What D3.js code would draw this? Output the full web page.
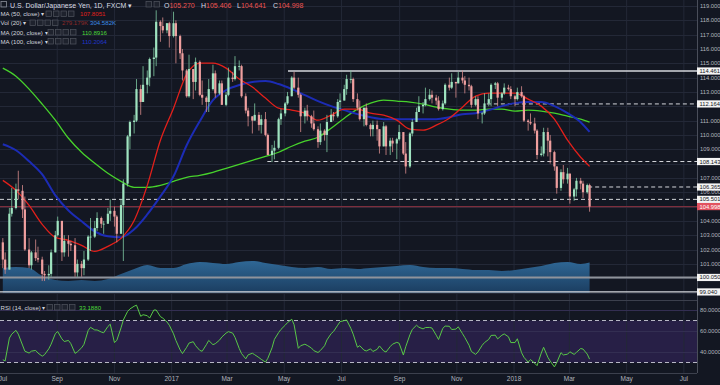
<!DOCTYPE html>
<html><head><meta charset="utf-8">
<script src="https://cdn.jsdelivr.net/npm/d3@7"></script>
<style>html,body{margin:0;padding:0;background:#131722;overflow:hidden}svg{display:block;font-family:"Liberation Sans",Arial,sans-serif}</style>
</head><body><svg id="c" width="720" height="385"></svg>
<script>
// ---------- DATA (half-week candles, USD/JPY) ----------
const firstOpen = 102.5;
const closes = [
101.3,100.6, 104.5,104.9, 106.2,106.1, 104.8,102.0, 100.9,101.8, 101.4,101.3, 100.3,100.2, 100.3,101.8,
103.0,104.0, 101.8,102.6, 102.4,102.3, 100.4,101.0, 100.7,101.3, 102.9,102.9, 103.5,104.2, 103.8,103.8,
104.5,104.7, 104.3,103.1, 105.1,106.6, 109.9,110.9, 111.0,113.2, 112.3,113.5, 114.0,115.3, 115.4,117.9,
117.6,117.3, 117.8,116.9, 117.8,116.9, 115.7,114.5, 112.7,114.6, 113.7,115.1, 112.8,112.6, 112.3,113.2,
114.3,112.9, 113.6,112.1, 112.8,114.0, 113.9,114.8, 114.8,112.7, 111.7,111.3, 111.0,111.4, 110.7,111.1,
110.0,108.6, 108.9,109.1, 111.1,111.5, 112.2,112.7, 114.0,113.3, 112.8,111.3, 111.7,111.3, 110.8,110.4,
109.5,110.3, 110.0,110.9, 111.4,111.3, 112.3,112.4, 113.2,113.9, 113.9,112.5, 111.9,111.1, 111.9,110.7,
110.4,110.7, 110.4,109.2, 110.6,109.2, 109.6,109.4, 109.7,110.2, 108.7,107.8, 110.1,110.9, 111.6,112.0,
112.1,112.5, 112.8,112.6, 112.4,111.8, 112.2,113.5, 113.3,113.7, 113.6,114.0, 113.8,113.5, 113.4,112.1,
112.5,111.5, 111.5,112.2, 112.5,113.5, 113.6,112.6, 112.9,113.3, 113.2,112.7, 112.5,113.0, 112.7,111.0,
110.9,110.8, 110.3,108.6, 108.7,110.2, 109.6,108.8, 107.8,106.3, 107.4,106.9, 107.3,105.7, 106.2,106.8,
106.6,106.0, 106.5,104.998];
const highs = [
102.8,101.8, 104.9,106.3, 106.6,107.5, 106.5,105.7, 102.8,101.9, 102.7,102.2, 101.5,100.5, 100.9,102.0,
103.3,104.3, 104.0,103.0, 103.0,102.6, 102.8,101.3, 101.2,101.9, 103.0,104.2, 104.0,104.6, 104.3,104.0,
104.9,105.5, 105.0,104.4, 105.5,106.9, 110.0,111.0, 111.4,113.9, 113.5,114.8, 114.5,115.4, 116.1,118.7,
118.0,118.2, 117.8,117.9, 118.6,118.0, 117.0,116.0, 114.6,115.6, 114.6,115.4, 115.2,113.8, 112.7,113.9,
114.9,114.5, 113.8,113.8, 113.0,114.7, 114.4,115.5, 115.2,114.9, 112.9,111.9, 111.3,112.2, 111.6,111.4,
111.6,110.1, 109.3,109.6, 111.2,111.8, 112.3,113.0, 114.1,114.4, 114.0,112.9, 111.9,112.1, 111.4,111.7,
110.6,110.8, 110.4,111.4, 111.8,111.6, 112.5,112.9, 113.5,114.2, 114.5,114.0, 112.9,112.4, 111.9,112.2,
110.8,111.0, 111.0,110.4, 110.9,110.7, 109.8,109.8, 109.8,110.7, 110.1,109.5, 110.2,111.1, 111.9,112.7,
112.3,113.3, 113.2,113.1, 112.8,112.7, 112.4,113.6, 114.0,114.3, 113.7,114.4, 114.5,114.1, 114.0,113.5,
112.7,112.7, 111.6,112.9, 112.9,113.6, 113.7,113.7, 113.0,113.6, 113.5,113.4, 112.8,113.3, 113.4,112.8,
111.1,111.5, 111.2,110.4, 109.2,110.5, 110.5,110.0, 108.9,107.8, 107.6,107.9, 107.7,107.3, 106.3,107.0,
107.0,106.8, 106.6,106.6];
const lows = [
100.7,100.3, 100.6,104.3, 104.8,105.5, 104.2,101.9, 100.7,100.6, 101.2,101.1, 99.8,99.8, 99.9,100.1,
101.8,102.9, 101.2,101.5, 101.5,101.9, 100.1,100.1, 100.1,100.2, 101.2,101.9, 102.8,103.3, 103.5,103.1,
103.8,104.0, 103.6,102.5, 103.2,101.2, 106.4,109.0, 110.1,110.9, 111.4,112.9, 112.9,113.4, 114.1,114.8,
116.5,117.1, 117.1,116.1, 116.8,115.0, 115.3,113.8, 112.6,112.6, 112.5,113.1, 112.7,112.1, 111.6,111.6,
113.1,112.6, 112.8,112.1, 112.0,112.7, 113.7,113.8, 114.5,112.6, 111.5,110.6, 110.1,111.0, 110.3,110.1,
109.9,108.6, 108.1,108.3, 109.0,110.7, 111.3,112.1, 112.7,113.2, 112.6,110.2, 110.8,111.0, 110.5,110.3,
109.1,109.3, 109.6,108.8, 110.9,111.0, 111.2,111.8, 112.4,112.8, 113.6,112.3, 111.7,111.0, 110.6,110.6,
109.9,109.9, 109.6,108.7, 109.2,108.6, 108.6,108.8, 108.3,109.6, 108.6,107.3, 107.7,109.9, 110.9,111.6,
111.5,112.0, 112.4,112.2, 112.1,111.7, 111.7,112.1, 113.1,113.2, 112.6,113.6, 113.6,112.9, 113.1,111.9,
112.0,111.1, 110.8,111.4, 112.0,112.0, 113.2,112.0, 112.4,112.8, 113.1,112.5, 112.0,112.4, 112.6,110.9,
110.3,110.7, 110.1,108.3, 108.5,108.5, 108.5,108.0, 107.5,105.9, 106.1,106.6, 106.6,105.2, 105.4,105.7,
106.2,105.6, 105.9,104.641];
// moving averages, sampled every 4th candle (+ last candle)
const ma50 = [106.83,106.13,105.08,103.76,102.85,102.64,102.29,101.87,102.22,102.78,104.03,106.48,109.63,111.87,114.24,115.01,115.01,114.66,113.90,113.34,112.57,111.87,111.73,111.52,111.03,111.38,111.80,111.80,111.52,111.38,111.03,110.40,110.33,110.68,111.17,111.94,112.71,112.92,112.92,112.92,112.50,112.01,111.10,109.63,108.44,107.8051];
const ma100 = [109.35,108.93,108.16,107.25,105.78,104.73,103.97,103.27,102.92,102.85,103.41,104.45,105.71,107.11,109.28,110.96,112.43,113.13,113.48,113.69,113.76,113.55,113.20,112.78,112.36,112.01,111.73,111.45,111.24,111.10,111.10,111.10,111.10,111.10,111.24,111.45,111.52,111.73,112.01,112.22,112.29,112.29,112.01,111.52,110.89,110.2064];
const ma200 = [114.66,114.10,113.20,112.15,111.03,109.77,108.79,108.02,107.32,106.76,106.34,106.34,106.48,106.76,107.04,107.18,107.39,107.67,107.95,108.23,108.51,108.79,109.21,109.56,109.84,110.47,111.17,111.80,112.22,112.43,112.36,112.29,112.15,111.94,111.80,111.73,111.73,111.80,111.80,111.66,111.73,111.66,111.52,111.31,111.10,110.8916];
const volMA = [250,260,250,170,130,120,130,120,140,190,240,280,250,250,290,310,300,290,310,320,300,280,260,250,260,240,250,240,250,260,270,280,260,250,250,240,230,230,220,230,250,270,300,310,290,304.582];
const lastVolume = "279.179K";
const rsi = [
32.6,31.5, 53.2,57, 60.6,57, 46.6,40.8, 39,40.8, 41.5,39, 36,37.5, 43,47.5, 57.5,59.5, 52.5,50,
51,48, 38.7,40.2, 44,47.3, 60.5,63.5, 61,61, 59,58.3, 64.3,66.5, 49,51, 63,70.5, 78.6,81,
83.6,84.6, 74,75.5, 74.6,72.3, 80,80, 73.7,72.3, 68.6,65.5, 57.3,51, 42,38.5, 44.5,48.5, 49.8,46,
41.5,40.7, 47,51, 47,47.9, 51.3,54.3, 58,59.4, 58,54, 43.4,38.5, 33.5,37.3, 38.8,37.4, 34.7,33,
30.4,34, 44,52, 58.5,61.5, 65.5,68, 71.2,66, 43.5,46, 47.4,46.3, 43.8,41.3, 39.5,41.4, 46,51.5,
57.5,59.5, 65.5,68.9, 69.9,70.5, 62.5,57, 44.5,46, 41.8,41, 43,40.5, 42.5,45.8, 41,40, 45.2,47.5,
49.2,48.3, 37.1,45, 56.5,61.5, 65.5,63.6, 62,63.3, 63.4,62.8, 56,51.9, 62.5,64.7, 64.5,61.4, 61.8,64,
57.5,53.8, 46.5,40.5, 37.7,40, 46.4,49, 52,55.8, 56,52.5, 56,57.2, 54.5,49, 49,52.6, 39.3,35,
30.3,32.8, 29.3,27, 39,44.5, 35,31.3, 25.8,30, 39.4,37.2, 37.9,40.2, 37.7,39.7, 43.3,42.8, 38,33.188];
const solidLevels = [{v:114.461, from:"2017-05-05"},{v:100.050, from:null},{v:99.040, from:null}];
const dashedLevels = [{v:112.164, from:"2017-12-03"},{v:108.143, from:"2017-04-13"},{v:106.365, from:"2018-03-21"},{v:105.501, from:null}];
const lastPrice = 104.998;
const priceTicks = d3.range(99, 120, 1);
const rsiTicks = [80, 60, 40];
const rsiBand = [30, 70];
const ohlcLabel = {O:"105.270", H:"105.406", L:"104.641", C:"104.998"};

// ---------- LAYOUT ----------
const PR = 697, PTOP = 0, PBOT = 300, RTOP = 300, RBOT = 373;
const svg = d3.select("#c");
const DAY = 864e5;
const week0 = Date.UTC(2016,6,4);
const dates = closes.map((_,i)=>new Date(week0 + (Math.floor(i/2)*7 + (i%2?3.5:1))*DAY));
const opens = closes.map((c,i)=> i ? closes[i-1] : firstOpen);
const maIdx = d3.range(0,180,4).concat([179]);

const x = d3.scaleUtc().domain([new Date(Date.UTC(2016,6,2)), new Date(Date.UTC(2018,6,15))]).range([0, PR]);
const y = d3.scaleLinear().domain([99,119]).range([292.5,6]);
const yr = d3.scaleLinear().domain([30,70]).range([362.5,320.5]);
const yv = d3.scaleLinear().domain([0,2050]).range([293,88]);

svg.append("rect").attr("width",720).attr("height",385).attr("fill","#131722");
const defs = svg.append("defs");
defs.append("clipPath").attr("id","cp").append("rect").attr("x",0).attr("y",PTOP).attr("width",PR).attr("height",PBOT-PTOP);
defs.append("clipPath").attr("id","cr").append("rect").attr("x",0).attr("y",RTOP).attr("width",PR).attr("height",RBOT-RTOP);
const g = defs.append("linearGradient").attr("id","vg").attr("x1",0).attr("x2",0).attr("y1",0).attr("y2",1);
g.append("stop").attr("offset","0%").attr("stop-color","#2f6795");
g.append("stop").attr("offset","100%").attr("stop-color","#1b3d60");

// RSI band
svg.append("rect").attr("x",0).attr("width",PR).attr("y",yr(rsiBand[1])).attr("height",yr(rsiBand[0])-yr(rsiBand[1])).attr("fill","#271f46");

// grid
const mTicks = d3.utcMonth.every(2).range(new Date(Date.UTC(2016,6,1)), new Date(Date.UTC(2018,6,16)));
svg.append("g").selectAll("line").data(mTicks).join("line")
  .attr("x1",d=>x(d)).attr("x2",d=>x(d)).attr("y1",0).attr("y2",RBOT).attr("stroke","#232837").attr("stroke-width",1);
svg.append("g").selectAll("line").data(priceTicks).join("line")
  .attr("x1",0).attr("x2",PR).attr("y1",d=>Math.round(y(d))+0.5).attr("y2",d=>Math.round(y(d))+0.5).attr("stroke","#232837");
svg.append("g").selectAll("line").data(rsiTicks).join("line")
  .attr("x1",0).attr("x2",PR).attr("y1",d=>Math.round(yr(d))+0.5).attr("y2",d=>Math.round(yr(d))+0.5).attr("stroke","#332e52");

const pane = svg.append("g").attr("clip-path","url(#cp)");
// volume MA area
pane.append("path").datum(maIdx.map((idx,j)=>[dates[idx], volMA[j]]))
  .attr("d", d3.area().x(d=>x(d[0])).y0(yv(0)).y1(d=>yv(d[1])).curve(d3.curveMonotoneX))
  .attr("fill","url(#vg)");

// user level lines
const lineX = f => f ? x(new Date(f+"T00:00:00Z")) : 0;
pane.append("g").selectAll("line").data(solidLevels).join("line")
  .attr("x1",d=>lineX(d.from)).attr("x2",PR).attr("y1",d=>y(d.v)).attr("y2",d=>y(d.v))
  .attr("stroke",(d,i)=>i===1?"#8f939b":"#d5d7dc").attr("stroke-width",(d,i)=>i===1?2:1.3);
pane.append("g").selectAll("line").data(dashedLevels).join("line")
  .attr("x1",d=>lineX(d.from)).attr("x2",PR).attr("y1",d=>y(d.v)).attr("y2",d=>y(d.v))
  .attr("stroke","#d5d7dc").attr("stroke-width",1).attr("stroke-dasharray","4,3");
pane.append("line").attr("x1",0).attr("x2",PR).attr("y1",y(lastPrice)).attr("y2",y(lastPrice))
  .attr("stroke","#7d2f3d").attr("stroke-width",1.2);

// moving averages
const maLine = d3.line().x(d=>x(d[0])).y(d=>y(d[1])).curve(d3.curveMonotoneX);
const maData = arr => maIdx.map((idx,j)=>[dates[idx], arr[j]]);
pane.append("path").datum(maData(ma200)).attr("d",maLine).attr("fill","none").attr("stroke","#47d22c").attr("stroke-width",1.3);
pane.append("path").datum(maData(ma100)).attr("d",maLine).attr("fill","none").attr("stroke","#1c2cb5").attr("stroke-width",2);
pane.append("path").datum(maData(ma50)).attr("d",maLine).attr("fill","none").attr("stroke","#e3201b").attr("stroke-width",1.3);

// candles
const cd = closes.map((c,i)=>({d:dates[i],o:opens[i],c:c,h:Math.max(highs[i],opens[i],c),l:Math.min(lows[i],opens[i],c)}));
const cg = pane.append("g");
cg.selectAll("line").data(cd).join("line")
  .attr("x1",d=>x(d.d)).attr("x2",d=>x(d.d)).attr("y1",d=>y(d.h)).attr("y2",d=>y(d.l))
  .attr("stroke",d=>d.c>=d.o?"#7fc9a2":"#d88c8c").attr("stroke-width",0.8);
cg.selectAll("rect").data(cd).join("rect")
  .attr("x",d=>x(d.d)-1.1).attr("width",2.2)
  .attr("y",d=>y(Math.max(d.o,d.c))).attr("height",d=>Math.max(0.8, Math.abs(y(d.o)-y(d.c))))
  .attr("fill",d=>d.c>=d.o?"#9fe3c0":"#ef9f9f");

// RSI
const rp = svg.append("g").attr("clip-path","url(#cr)");
rp.append("g").selectAll("line").data(rsiBand).join("line")
  .attr("x1",0).attr("x2",PR).attr("y1",d=>yr(d)).attr("y2",d=>yr(d))
  .attr("stroke","#c9c9d6").attr("stroke-dasharray","4,3").attr("stroke-width",0.9);
rp.append("path").datum(rsi.map((v,i)=>[dates[i],v]))
  .attr("d", d3.line().x(d=>x(d[0])).y(d=>yr(d[1])))
  .attr("fill","none").attr("stroke","#58c846").attr("stroke-width",1);

// separators / borders
svg.append("line").attr("x1",0).attr("x2",PR).attr("y1",PBOT+0.5).attr("y2",PBOT+0.5).attr("stroke","#3c404d");
svg.append("line").attr("x1",0).attr("x2",PR).attr("y1",RBOT+0.5).attr("y2",RBOT+0.5).attr("stroke","#3c404d");
svg.append("line").attr("x1",PR+0.5).attr("x2",PR+0.5).attr("y1",0).attr("y2",RBOT).attr("stroke","#4a4e5a");

// axes labels
const fmtM = d => d.getUTCMonth()===0 ? d3.utcFormat("%Y")(d) : d3.utcFormat("%b")(d);
svg.append("g").selectAll("text").data(mTicks).join("text")
  .attr("x",d=>Math.max(x(d), 3)).attr("y",381).attr("text-anchor","middle").attr("font-size",6.5).attr("fill","#b2b5be").text(fmtM);
const boxes = solidLevels.concat(dashedLevels).map(d=>d.v).concat([lastPrice]);
const visibleTicks = priceTicks.filter(t => boxes.every(b => Math.abs(y(t)-y(b)) > 5));
svg.append("g").selectAll("text").data(visibleTicks).join("text")
  .attr("x",700).attr("y",d=>y(d)).attr("dy","0.35em").attr("font-size",5.8).attr("fill","#b2b5be").text(d=>d.toFixed(3));
svg.append("g").selectAll("text").data(rsiTicks).join("text")
  .attr("x",700).attr("y",d=>yr(d)).attr("dy","0.35em").attr("font-size",5.8).attr("fill","#b2b5be").text(d=>d.toFixed(4));

// level label boxes
const bg = svg.append("g");
boxes.forEach(v=>{
  const red = v===lastPrice;
  bg.append("rect").attr("x",PR).attr("y",y(v)-3.6).attr("width",23).attr("height",7.2).attr("fill",red?"#e2525f":"#f4f4f4");
  bg.append("text").attr("x",699.5).attr("y",y(v)).attr("dy","0.35em").attr("font-size",5.8).attr("fill",red?"#ffffff":"#131722").text(v.toFixed(3));
});

// legends
const lg = svg.append("g").attr("font-size",6.1);
function icons(x0, yc, n, step){ for(let k=0;k<n;k++) lg.append("rect").attr("x",x0+k*step).attr("y",yc-3).attr("width",5.5).attr("height",5.5).attr("fill","#1e222d").attr("stroke","#50545f").attr("stroke-width",0.7); }
lg.append("rect").attr("x",1).attr("y",1.5).attr("width",5.5).attr("height",5.5).attr("fill","none").attr("stroke","#8a8e99").attr("stroke-width",0.8);
lg.append("text").attr("x",10).attr("y",7.5).attr("font-size",7).attr("fill","#d8dbe2").text("U.S. Dollar/Japanese Yen, 1D, FXCM ▾");
icons(146,4.5,2,8);
const ox = {O:164,H:201,L:237,C:273};
Object.keys(ohlcLabel).forEach(k=>{
  const t = lg.append("text").attr("x",ox[k]).attr("y",7.5).attr("font-size",7);
  t.append("tspan").attr("fill","#d8dbe2").text(k);
  t.append("tspan").attr("fill","#ef5350").text(ohlcLabel[k]);
});
const rows = [
  {y:14, name:"MA (50, close) ▾", ix:46, vals:[{t:ma50[ma50.length-1].toFixed(4), x:80, c:"#e3201b"}]},
  {y:23, name:"Vol (20) ▾", ix:30, vals:[{t:lastVolume, x:62, c:"#8c2a2a"},{t:volMA[volMA.length-1].toFixed(3)+"K", x:90, c:"#3d8ee6"}]},
  {y:32.5, name:"MA (200, close) ▾", ix:48, vals:[{t:ma200[ma200.length-1].toFixed(4), x:82, c:"#4cd83a"}]},
  {y:41.5, name:"MA (100, close) ▾", ix:48, vals:[{t:ma100[ma100.length-1].toFixed(4), x:82, c:"#2136c8"}]}
];
rows.forEach(r=>{
  lg.append("text").attr("x",0.5).attr("y",r.y).attr("dy","0.35em").attr("fill","#d1d4dc").text(r.name);
  icons(r.ix, r.y, 4, 7.5);
  r.vals.forEach(v=>lg.append("text").attr("x",v.x).attr("y",r.y).attr("dy","0.35em").attr("fill",v.c).text(v.t));
});
lg.append("text").attr("x",0.5).attr("y",307.5).attr("dy","0.35em").attr("fill","#d1d4dc").text("RSI (14, close) ▾");
icons(47,307.5,4,7.5);
lg.append("text").attr("x",79).attr("y",307.5).attr("dy","0.35em").attr("fill","#4cd83a").text(rsi[rsi.length-1].toFixed(4));
</script></body></html>
